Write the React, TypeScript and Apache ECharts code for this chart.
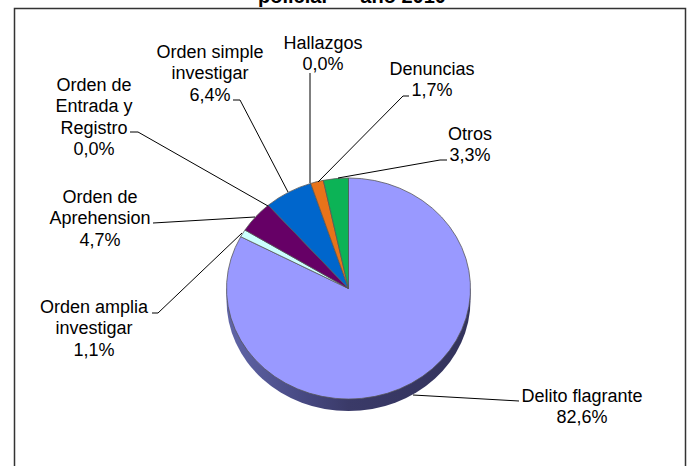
import React, { useEffect, useRef } from "react";
import * as echarts from "echarts";

const categories = [
  "Delito flagrante",
  "Orden amplia investigar",
  "Orden de Aprehension",
  "Orden de Entrada y Registro",
  "Orden simple investigar",
  "Hallazgos",
  "Denuncias",
  "Otros",
];
const values = [82.6, 1.1, 4.7, 0.0, 6.4, 0.0, 1.7, 3.3];
const percentLabels = ["82,6%", "1,1%", "4,7%", "0,0%", "6,4%", "0,0%", "1,7%", "3,3%"];
const colors = ["#9999FF", "#CCFFFF", "#660066", "#FFFFCC", "#0066CC", "#FF8080", "#E8731A", "#0CB356"];
const labelLines = [
  ["Delito flagrante", "82,6%"],
  ["Orden amplia", "investigar", "1,1%"],
  ["Orden de", "Aprehension", "4,7%"],
  ["Orden de", "Entrada y", "Registro", "0,0%"],
  ["Orden simple", "investigar", "6,4%"],
  ["Hallazgos", "0,0%"],
  ["Denuncias", "1,7%"],
  ["Otros", "3,3%"],
];
const titleText = "policial  –  año 2010";

// Layout only
const CX = 348.5, CY = 288.5, RX = 122, RY = 110.5, DEPTH = 12;
const FONT = "Liberation Sans, Arial, sans-serif";
const FONT_SIZE = 18, LINE_H = 21.3;
const labelPos: [number, number][] = [
  [582, 396], [94, 307], [100, 197], [94, 85], [210, 52], [323, 43], [432, 69], [470, 134],
];
const leaders: number[][][] = [
  [[519, 401], [413, 395]],
  [[152, 313], [158, 313], [242, 233]],
  [[153, 223], [255, 217]],
  [[130, 132], [138, 132], [268, 206]],
  [[233, 100], [240, 100], [288, 192]],
  [[310, 73], [310, 183]],
  [[409, 96], [403, 96], [318, 182]],
  [[447, 160], [440, 160], [338, 178]],
];

const total = values.reduce((a, b) => a + b, 0);

const renderItem = (params: any, api: any) => {
  const i = params.dataIndex;
  const before = values.slice(0, i).reduce((a, b) => a + b, 0);
  const start = -Math.PI / 2 + (before / total) * Math.PI * 2;
  const end = start + (Number(api.value(1)) / total) * Math.PI * 2;
  const children: any[] = [];
  const scaleY = RY / RX;
  if (i === 0) {
    const rim = {
      type: "linear", x: 0, y: 0, x2: 1, y2: 0,
      colorStops: [
        { offset: 0, color: "#6166A8" },
        { offset: 0.3, color: "#484A84" },
        { offset: 0.5, color: "#3A3A68" },
        { offset: 1, color: "#33335C" },
      ],
    };
    children.push({
      type: "sector", x: CX, y: CY + DEPTH, scaleY,
      shape: { cx: 0, cy: 0, r0: 0, r: RX, startAngle: 0, endAngle: Math.PI, clockwise: true },
      style: { fill: rim },
    });
    children.push({
      type: "rect", shape: { x: CX - RX, y: CY, width: RX * 2, height: DEPTH },
      style: { fill: rim },
    });
  }
  if (end > start) {
    children.push({
      type: "sector", x: CX, y: CY, scaleY,
      shape: { cx: 0, cy: 0, r0: 0, r: RX, startAngle: start, endAngle: end, clockwise: true },
      style: { fill: colors[i], stroke: "#555", lineWidth: 0.8 },
    });
  }
  return { type: "group", children };
};

const renderLabels = (params: any) => {
  const i = params.dataIndex;
  const children: any[] = [
    {
      type: "polyline",
      shape: { points: leaders[i] },
      style: { fill: "none", stroke: "#000", lineWidth: 1 },
    },
  ];
  labelLines[i].forEach((line, k) => {
    children.push({
      type: "text",
      x: labelPos[i][0],
      y: labelPos[i][1] + k * LINE_H,
      style: {
        text: line, fill: "#000", font: `${FONT_SIZE}px ${FONT}`,
        textAlign: "center", textVerticalAlign: "middle",
      },
    });
  });
  return { type: "group", children };
};

export default function App() {
  const ref = useRef<HTMLDivElement>(null);
  useEffect(() => {
    document.body.style.margin = "0";
    const chart = echarts.init(ref.current!, undefined, { renderer: "svg" });
    const data = categories.map((c, i) => ({ name: c, value: [i, values[i]], label: percentLabels[i] }));
    chart.setOption({
      animation: false,
      backgroundColor: "#fff",
      graphic: [
        {
          type: "rect", z: 0,
          shape: { x: 14.5, y: 8.5, width: 671, height: 480 },
          style: { fill: "#fff", stroke: "#333", lineWidth: 1.5 },
        },
        {
          type: "text", z: 1, x: 352, y: -4,
          style: {
            text: titleText, fill: "#000", font: `bold 20px ${FONT}`,
            textAlign: "center", textVerticalAlign: "middle",
          },
        },
      ],
      series: [
        { type: "custom", coordinateSystem: "none", renderItem, data, z: 2, silent: true, clip: false },
        { type: "custom", coordinateSystem: "none", renderItem: renderLabels, data, z: 3, silent: true, clip: false },
      ],
    });
    return () => chart.dispose();
  }, []);
  return <div ref={ref} style={{ width: 693, height: 466 }} />;
}
